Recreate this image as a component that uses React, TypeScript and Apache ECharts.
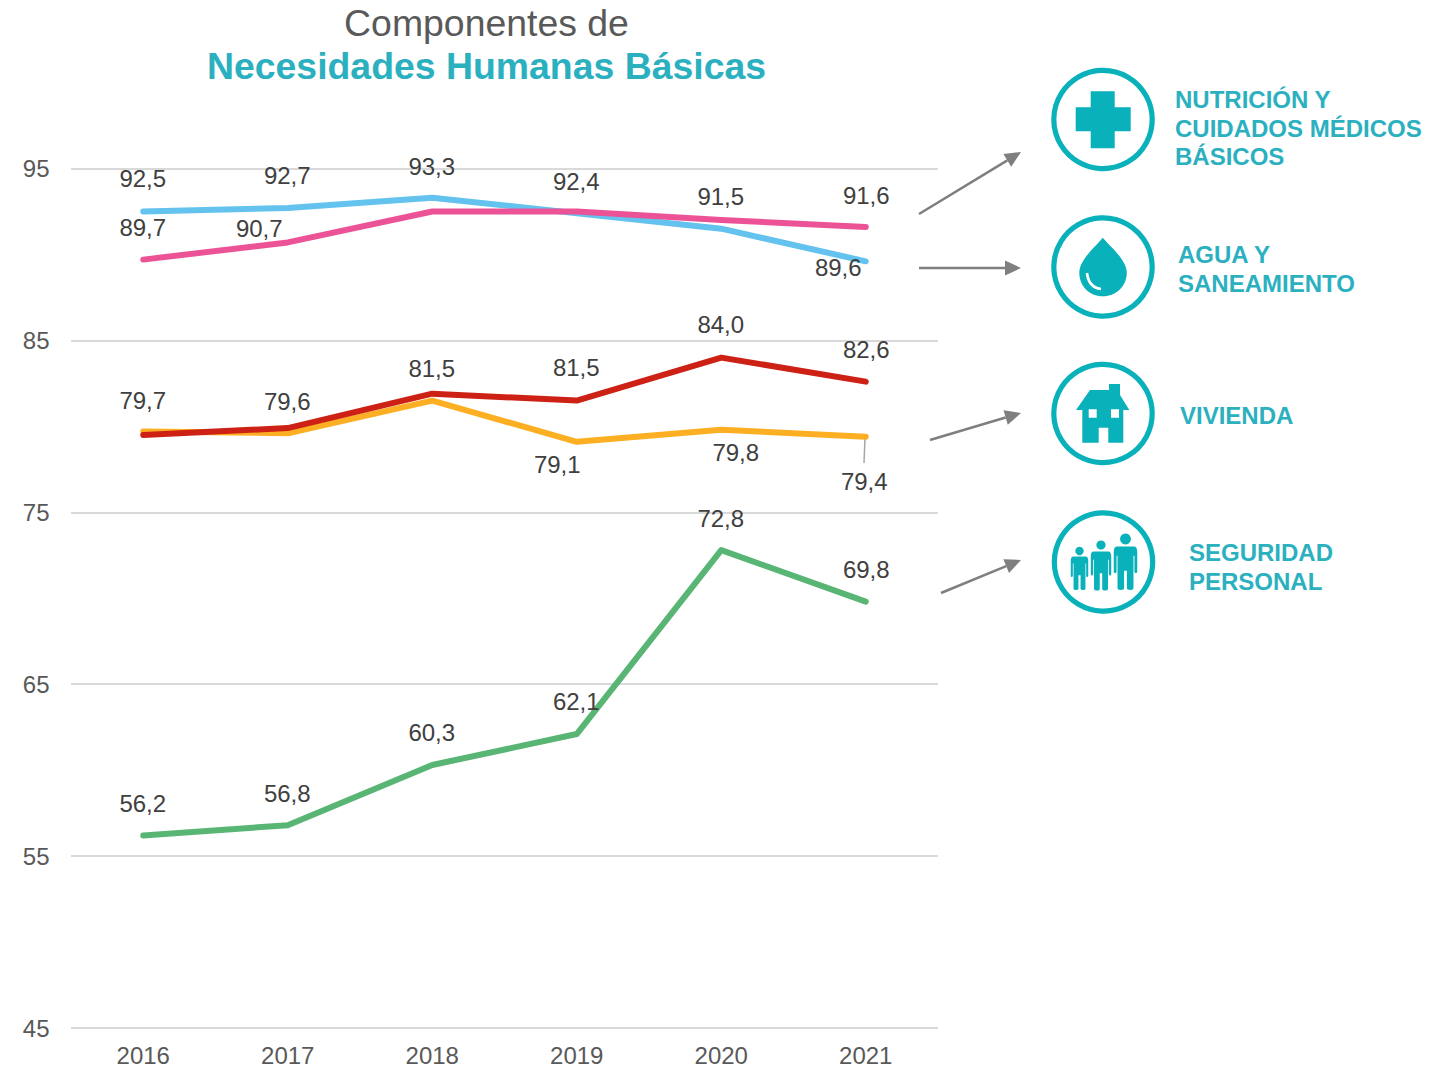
import React, { useEffect, useRef } from "react";
import * as echarts from "echarts";

const years = ["2016", "2017", "2018", "2019", "2020", "2021"];
const nutricion = [92.5, 92.7, 93.3, 92.4, 91.5, 89.6];
const agua = [89.7, 90.7, 92.5, 92.5, 92.0, 91.6];
const vivienda = [79.7, 79.6, 81.5, 79.1, 79.8, 79.4];
const medicos = [79.5, 79.9, 81.9, 81.5, 84.0, 82.6];
const seguridad = [56.2, 56.8, 60.3, 62.1, 72.8, 69.8];

// label offsets from each point (px); null = no label on that point
type Off = [number, number] | null;
const nutricionLabels: Off[] = [[0, -32], [0, -32], [0, -31], [0, -31], [0, -32], [-27, 7]];
const aguaLabels: Off[] = [[0, -32], [-28, -13.5], null, null, null, [1, -31]];
const viviendaLabels: Off[] = [[0, -31], [0, -31], [0, -32], [-19, 23], [15, 23], [-1, 45]];
const medicosLabels: Off[] = [null, null, null, [0, -33], [0, -33], [1, -32]];
const seguridadLabels: Off[] = [[0, -31.5], [0, -31.5], [0, -32], [0, -32], [0, -31], [1, -32]];

const FONT = "'Liberation Sans', Arial, sans-serif";
const TEAL = "#09B1BA";
const TEXT_TEAL = "#2BB0BF";
const ARROW = "#7F7F7F";

const crossD = "M15 0H39V16H55V40H39V57H15V40H0V16H15Z";
const dropD = "M23.5 0C30 8 47.5 22 47.5 35C47.5 48 37 58.5 23.5 58.5C10 58.5 0 48 0 35C0 22 17 8 23.5 0Z";
const houseD =
  "M14 6H33V0H44V11L53.3 26H47.3V58.7H32.3V43.7H22.7V58.7H6.3V26H0ZM12.7 25.3V33.7H20.7V25.3ZM35 25.3V33.7H43V25.3Z";
// one person, unit box 100 wide, 100 tall below the head
const personD =
  "M14 0H86Q100 0 100 14V60Q100 64 94 64Q88 64 88 60V22H84V100Q84 104 72 104Q56 104 56 100V58H44V100Q44 104 28 104Q16 104 16 100V22H12V60Q12 64 6 64Q0 64 0 60V14Q0 0 14 0Z";

let registered = false;
function registerShapes() {
  if (registered) return;
  registered = true;
  echarts.graphic.registerShape("iconCross", echarts.graphic.extendPath(crossD, {}));
  echarts.graphic.registerShape("iconDrop", echarts.graphic.extendPath(dropD, {}));
  echarts.graphic.registerShape("iconHouse", echarts.graphic.extendPath(houseD, {}));
  echarts.graphic.registerShape("iconPerson", echarts.graphic.extendPath(personD, {}));
}

function arrow(x1: number, y1: number, x2: number, y2: number): any[] {
  const a = Math.atan2(y2 - y1, x2 - x1);
  const len = 16;
  const w = 7.5;
  const bx = x2 - len * Math.cos(a);
  const by = y2 - len * Math.sin(a);
  const nx = -Math.sin(a);
  const ny = Math.cos(a);
  return [
    {
      type: "line",
      shape: { x1, y1, x2: bx, y2: by },
      style: { stroke: ARROW, lineWidth: 2.5 },
    },
    {
      type: "polygon",
      shape: {
        points: [
          [x2, y2],
          [bx + nx * w, by + ny * w],
          [bx - nx * w, by - ny * w],
        ],
      },
      style: { fill: ARROW },
    },
  ];
}

function ring(cx: number, cy: number): any {
  return {
    type: "circle",
    shape: { cx, cy, r: 49.2 },
    style: { fill: "#fff", stroke: TEAL, lineWidth: 5.2 },
  };
}

function person(cx: number, top: number, width: number, bodyH: number, headR: number, headY: number): any[] {
  return [
    { type: "circle", shape: { cx, cy: headY, r: headR }, style: { fill: TEAL } },
    {
      type: "iconPerson",
      x: cx - width / 2,
      y: top,
      scaleX: width / 100,
      scaleY: bodyH / 104,
      style: { fill: TEAL },
    },
  ];
}

function caption(x: number, y: number, lines: string[], step: number): any[] {
  return lines.map((t, i) => ({
    type: "text",
    x,
    y: y + i * step,
    style: {
      text: t,
      fill: TEXT_TEAL,
      font: `bold 24px ${FONT}`,
      textAlign: "left",
      textVerticalAlign: "middle",
    },
  }));
}

function makeSeries(name: string, values: number[], offs: Off[], color: string, z: number) {
  return {
    name,
    type: "line",
    z,
    symbol: "circle",
    symbolSize: 1,
    showSymbol: true,
    itemStyle: { color: "transparent", borderWidth: 0 },
    lineStyle: { color, width: 6, cap: "round", join: "round" },
    data: values.map((v, i) => {
      const o = offs[i];
      return {
        value: v,
        label: o
          ? {
              show: true,
              position: "inside",
              offset: [o[0] - 0.5, o[1] - 0.5],
              align: "center",
              verticalAlign: "middle",
              fontFamily: FONT,
              fontSize: 24,
              color: "#404040",
              formatter: (p: any) => Number(p.value).toFixed(1).replace(".", ","),
            }
          : { show: false },
      };
    }),
  };
}

export default function App() {
  const ref = useRef<HTMLDivElement>(null);
  useEffect(() => {
    registerShapes();
    const chart = echarts.init(ref.current!, null, { renderer: "svg" });
    const axisText = { color: "#595959", fontFamily: FONT, fontSize: 24 };
    chart.setOption({
      animation: false,
      backgroundColor: "#fff",
      title: [
        {
          text: "Componentes de",
          left: 481.5,
          top: 18,
          textAlign: "center",
          textVerticalAlign: "middle",
          textStyle: { color: "#595959", fontFamily: FONT, fontSize: 37.4, fontWeight: "normal" },
        },
        {
          text: "Necesidades Humanas Básicas",
          left: 481.5,
          top: 61,
          textAlign: "center",
          textVerticalAlign: "middle",
          textStyle: { color: TEXT_TEAL, fontFamily: FONT, fontSize: 37.4, fontWeight: "bold" },
        },
      ],
      grid: { left: 71, right: 514, top: 168.5, bottom: 40, containLabel: false },
      xAxis: {
        type: "category",
        data: years,
        axisLine: { show: false },
        axisTick: { show: false },
        axisLabel: { ...axisText, margin: 15 },
      },
      yAxis: {
        type: "value",
        min: 45,
        max: 95,
        interval: 10,
        axisLine: { show: false },
        axisTick: { show: false },
        axisLabel: { ...axisText, margin: 21.5, padding: [0, 0, 4, 0] },
        splitLine: { show: true, lineStyle: { color: "#D9D9D9", width: 2 } },
      },
      series: [
        makeSeries("Nutrición", nutricion, nutricionLabels, "#63C3EE", 2),
        makeSeries("Agua", agua, aguaLabels, "#EC5396", 3),
        makeSeries("Vivienda", vivienda, viviendaLabels, "#FCAF22", 4),
        makeSeries("Cuidados", medicos, medicosLabels, "#CE2116", 5),
        makeSeries("Seguridad", seguridad, seguridadLabels, "#58B574", 6),
      ],
      graphic: {
        elements: [
          {
            type: "line",
            shape: { x1: 865, y1: 438, x2: 864, y2: 463 },
            style: { stroke: "#A6A6A6", lineWidth: 1.5 },
          },
          ...arrow(919, 214, 1021, 152),
          ...arrow(919, 268, 1021, 268),
          ...arrow(930, 440, 1021, 413),
          ...arrow(941, 593, 1021, 560),

          ring(1103, 119.5),
          { type: "iconCross", x: 1075.7, y: 91.3, style: { fill: TEAL } },

          ring(1103, 267),
          { type: "iconDrop", x: 1079.3, y: 237.7, style: { fill: TEAL } },
          {
            type: "bezierCurve",
            shape: { x1: 1087, y1: 273, cpx1: 1088, cpy1: 282, cpx2: 1093, y2: 289, x2: 1101, cpy2: 288 },
            style: { stroke: "#fff", lineWidth: 2.6, fill: "none" },
          },

          ring(1103, 413.5),
          { type: "iconHouse", x: 1076, y: 384, style: { fill: TEAL } },

          { ...ring(1103.5, 562) },
          ...person(1079.5, 556.5, 17.5, 33.5, 4.2, 551),
          ...person(1101, 551.5, 20.5, 39, 4.6, 545),
          ...person(1125.5, 546.5, 23.5, 43.5, 5.4, 539),

          ...caption(1175, 99.5, ["NUTRICIÓN Y", "CUIDADOS MÉDICOS", "BÁSICOS"], 28.5),
          ...caption(1178, 254.5, ["AGUA Y", "SANEAMIENTO"], 29),
          ...caption(1180, 415.5, ["VIVIENDA"], 0),
          ...caption(1189, 552.5, ["SEGURIDAD", "PERSONAL"], 29),
        ],
      },
    });
    return () => chart.dispose();
  }, []);
  return (
    <div
      ref={ref}
      style={{ position: "absolute", left: 0, top: 0, width: 1452, height: 1068 }}
    />
  );
}
